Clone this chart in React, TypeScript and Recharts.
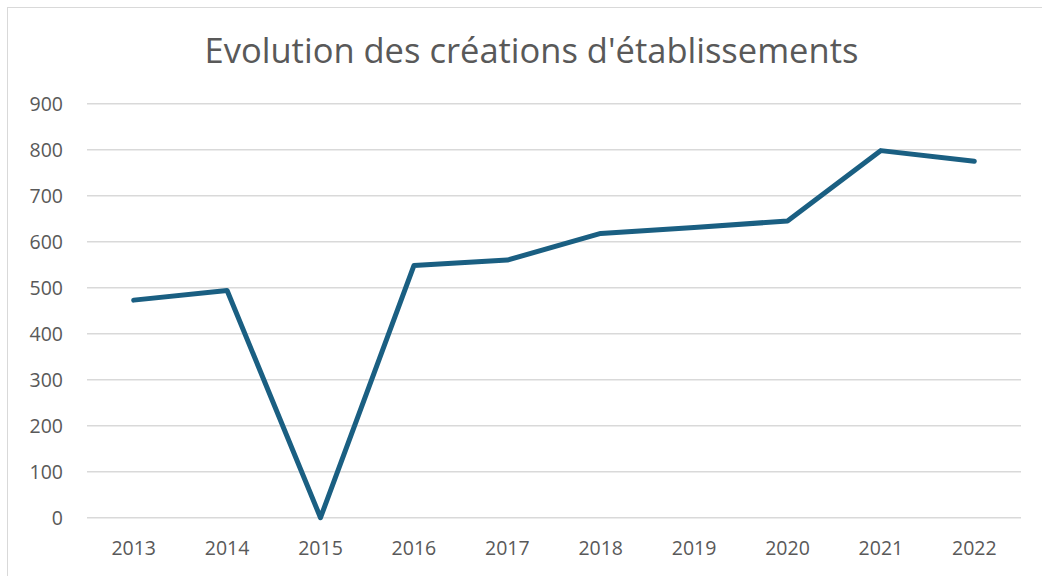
import React from "react";
import { LineChart, Line, XAxis, YAxis, CartesianGrid } from "recharts";

const years = ["2013", "2014", "2015", "2016", "2017", "2018", "2019", "2020", "2021", "2022"];
const creations = [473, 494, 0, 548, 560, 618, 631, 645, 798, 775];
const yTicks = [0, 100, 200, 300, 400, 500, 600, 700, 800, 900];
const title = "Evolution des créations d'établissements";

const data = years.map((y, i) => ({ year: y, value: creations[i] }));

const FONT = "'Open Sans', sans-serif";
const TEXT = "#595959";

export default function App() {
  return (
    <div style={{ position: "absolute", left: 0, top: 0, width: 1042, height: 576, overflow: "hidden", background: "#fff" }}>
      <div style={{ position: "absolute", left: 7, top: 7, width: 1100, height: 700, border: "1px solid #d9d9d9", boxSizing: "border-box" }} />
      <svg style={{ position: "absolute", left: 0, top: 0 }} width={1042} height={576}>
        <text x={531.5} y={62.5} textAnchor="middle" fontFamily={FONT} fontSize={34.5} fill={TEXT}>
          {title}
        </text>
      </svg>
      <div style={{ position: "absolute", left: 0, top: 0 }}>
        <LineChart width={1042} height={576} data={data} margin={{ top: 103.7, right: 21, bottom: 0, left: 0 }}>
          <CartesianGrid vertical={false} stroke="#d9d9d9" strokeWidth={1.5} />
          <XAxis
            dataKey="year"
            height={58.3}
            axisLine={false}
            tickLine={false}
            tickSize={0}
            tickMargin={23}
            padding={{ left: 46.7, right: 46.7 }}
            tick={{ fill: TEXT, fontSize: 19.5, fontFamily: FONT }}
            interval={0}
          />
          <YAxis
            width={87}
            domain={[0, 900]}
            ticks={yTicks}
            axisLine={false}
            tickLine={false}
            tickSize={0}
            tickMargin={24}
            tick={{ fill: TEXT, fontSize: 19.5, fontFamily: FONT }}
            interval={0}
          />
          <Line
            type="linear"
            dataKey="value"
            stroke="#1a5f82"
            strokeWidth={5}
            dot={false}
            strokeLinecap="round"
            strokeLinejoin="round"
            isAnimationActive={false}
          />
        </LineChart>
      </div>
    </div>
  );
}
